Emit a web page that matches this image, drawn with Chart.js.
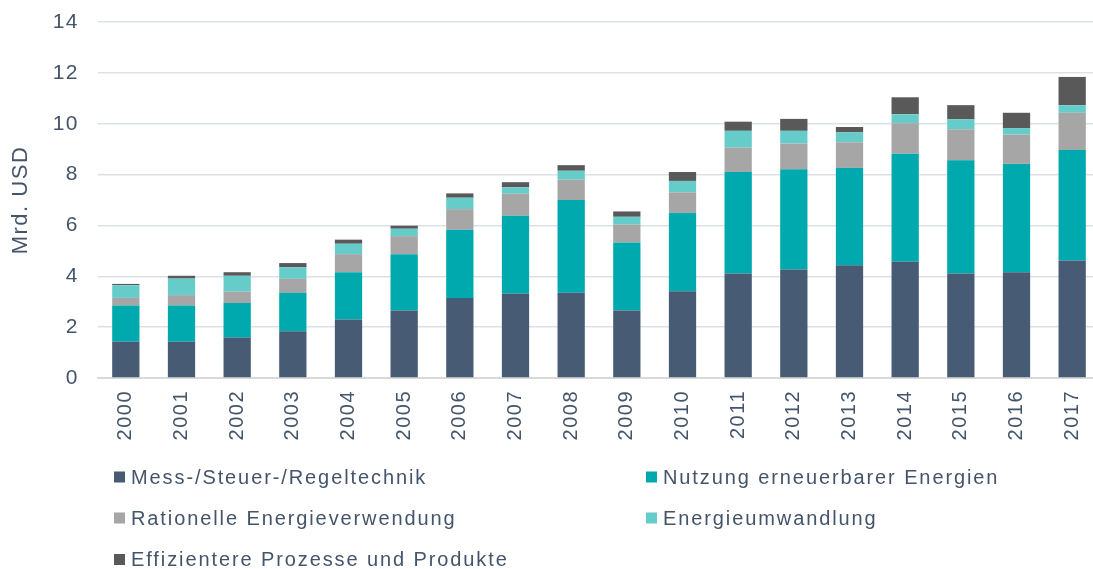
<!DOCTYPE html>
<html lang="de">
<head>
<meta charset="utf-8">
<title>Exporte Energieeffizienz-Technologien</title>
<script src="https://cdn.jsdelivr.net/npm/chart.js@4.4.1/dist/chart.umd.min.js"></script>
<style>
  html, body { margin: 0; padding: 0; background: #ffffff; overflow: hidden; }
  canvas { display: block; }
</style>
</head>
<body>
<canvas id="chart" width="1101" height="569"></canvas>
<script>
// Jahre
const years = ['2000','2001','2002','2003','2004','2005','2006','2007','2008','2009',
               '2010','2011','2012','2013','2014','2015','2016','2017'];

// Werte in Mrd. USD je Technologiefeld
const messSteuerRegel = [1.43, 1.43, 1.59, 1.84, 2.30, 2.65, 3.15, 3.31, 3.35, 2.65,
                         3.41, 4.11, 4.27, 4.43, 4.57, 4.11, 4.16, 4.62];
const erneuerbare     = [1.42, 1.42, 1.36, 1.51, 1.86, 2.22, 2.68, 3.07, 3.65, 2.68,
                         3.08, 3.99, 3.94, 3.83, 4.25, 4.45, 4.26, 4.35];
const rationelle      = [0.30, 0.41, 0.45, 0.55, 0.71, 0.71, 0.81, 0.87, 0.80, 0.70,
                         0.81, 0.96, 1.01, 1.01, 1.20, 1.22, 1.15, 1.46];
const umwandlung      = [0.50, 0.65, 0.62, 0.46, 0.41, 0.29, 0.45, 0.25, 0.35, 0.31,
                         0.45, 0.66, 0.50, 0.39, 0.35, 0.40, 0.26, 0.30];
const prozesse        = [0.05, 0.11, 0.14, 0.16, 0.16, 0.12, 0.17, 0.20, 0.22, 0.21,
                         0.35, 0.36, 0.47, 0.21, 0.67, 0.55, 0.60, 1.11];

// Achsenbeschriftung
const yTicks = [0, 2, 4, 6, 8, 10, 12, 14];
const yTitle = 'Mrd. USD';

const textColor = '#44546A';
const fontFamily = 'Arial, "Liberation Sans", sans-serif';
const spacing = '1.5px';

// Zeichenabstand für alle Texte im Canvas
const letterSpacingPlugin = {
  id: 'letterSpacing',
  beforeUpdate(chart) { chart.ctx.letterSpacing = spacing; },
  beforeLayout(chart) { chart.ctx.letterSpacing = spacing; },
  beforeDraw(chart) { chart.ctx.letterSpacing = spacing; }
};

// Legende in zwei Spalten unter der Grafik
const columnLegend = {
  id: 'columnLegend',
  afterDraw(chart) {
    const ctx = chart.ctx;
    const cols = [114, 646];
    const rows = [477, 518, 559.5];
    ctx.save();
    ctx.letterSpacing = '1.9px';
    ctx.font = '20px ' + fontFamily;
    ctx.textBaseline = 'middle';
    ctx.textAlign = 'left';
    chart.data.datasets.forEach((ds, i) => {
      const x = cols[i % 2];
      const y = rows[Math.floor(i / 2)];
      ctx.fillStyle = ds.backgroundColor;
      ctx.fillRect(x, y - 5.5, 11, 11);
      ctx.fillStyle = textColor;
      ctx.fillText(ds.label, x + 17, y + 1);
    });
    ctx.restore();
  }
};

new Chart(document.getElementById('chart'), {
  type: 'bar',
  data: {
    labels: years,
    datasets: [
      { label: 'Mess-/Steuer-/Regeltechnik', data: messSteuerRegel, backgroundColor: '#475B75' },
      { label: 'Nutzung erneuerbarer Energien', data: erneuerbare, backgroundColor: '#00A9AD' },
      { label: 'Rationelle Energieverwendung', data: rationelle, backgroundColor: '#A6A6A6' },
      { label: 'Energieumwandlung', data: umwandlung, backgroundColor: '#66CCCA' },
      { label: 'Effizientere Prozesse und Produkte', data: prozesse, backgroundColor: '#595959' }
    ]
  },
  options: {
    responsive: false,
    animation: false,
    layout: { padding: { top: 22, right: 1, bottom: 0, left: 0 } },
    datasets: {
      bar: { barPercentage: 0.49, categoryPercentage: 1.0 }
    },
    plugins: {
      legend: { display: false },
      tooltip: { enabled: false }
    },
    scales: {
      x: {
        stacked: true,
        grid: { display: false, drawTicks: false },
        border: { display: true, color: '#D9D9D9', width: 2 },
        ticks: {
          color: textColor,
          font: { family: fontFamily, size: 20 },
          minRotation: 90,
          maxRotation: 90,
          padding: 12,
          autoSkip: false
        },
        afterFit(scale) {
          scale.height = 191;
          scale.paddingLeft = 0;
          scale.paddingRight = 0;
        }
      },
      y: {
        stacked: true,
        min: 0,
        max: 14,
        afterBuildTicks(scale) { scale.ticks = yTicks.map(v => ({ value: v })); },
        grid: { color: '#DCE1E9', lineWidth: 1.5, drawTicks: false },
        border: { display: false },
        ticks: {
          color: textColor,
          font: { family: fontFamily, size: 21 },
          padding: 19
        },
        title: {
          display: true,
          text: yTitle,
          color: textColor,
          font: { family: fontFamily, size: 22, weight: 'normal' },
          padding: { top: 8, bottom: 0 }
        },
        afterFit(scale) {
          scale.width = 98;
          scale.paddingTop = 0;
          scale.paddingBottom = 0;
        }
      }
    }
  },
  plugins: [letterSpacingPlugin, columnLegend]
});
</script>
</body>
</html>
